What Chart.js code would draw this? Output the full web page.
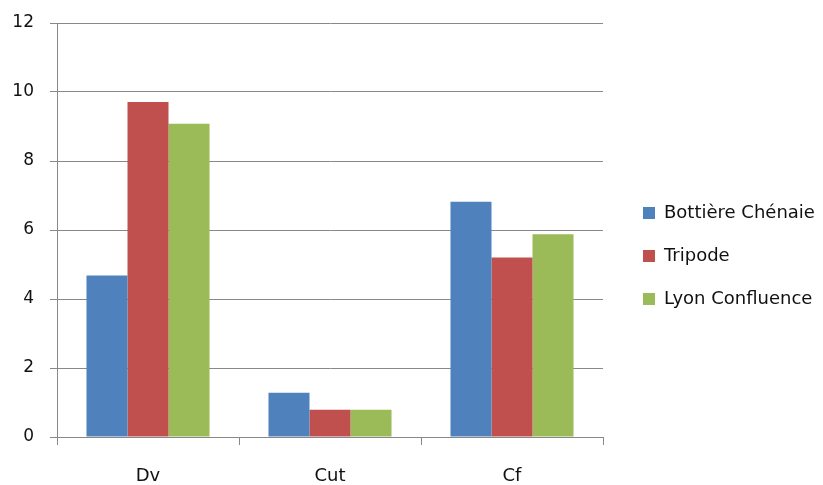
<!DOCTYPE html>
<html>
<head>
<meta charset="utf-8">
<script src="https://cdn.jsdelivr.net/npm/chart.js@4/dist/chart.umd.min.js"></script>
<style>
  body { margin: 0; background: #fff; }
  #wrap { width: 823px; height: 485px; }
</style>
</head>
<body>
<div id="wrap"><canvas id="chart"></canvas></div>
<script>
const categories = ["Dv", "Cut", "Cf"];
const bottiere = [4.68, 1.28, 6.82];
const tripode = [9.71, 0.79, 5.20];
const confluence = [9.08, 0.79, 5.88];
const yTicks = [0, 2, 4, 6, 8, 10, 12];

const family = "'DejaVu Sans', sans-serif";
const gridColor = "#888888";

// legend sits in a fixed-width column on the right, a little away from the plot
const legendBox = {
  id: "legendBox",
  beforeLayout(chart) {
    const lg = chart.legend;
    if (!lg._origFit) {
      lg._origFit = lg.fit;
      lg.fit = function () { this._origFit(); this.width = 220; };
    }
  },
  afterLayout(chart) {
    chart.legend.left += 15;
    chart.legend.right += 15;
  }
};

new Chart(document.getElementById("chart"), {
  type: "bar",
  data: {
    labels: categories,
    datasets: [
      { label: "Bottière Chénaie", data: bottiere, backgroundColor: "#4F81BD" },
      { label: "Tripode", data: tripode, backgroundColor: "#C0504D" },
      { label: "Lyon Confluence", data: confluence, backgroundColor: "#9BBB59" }
    ]
  },
  options: {
    responsive: true,
    maintainAspectRatio: false,
    animation: false,
    datasets: { bar: { categoryPercentage: 0.676, barPercentage: 1 } },
    layout: { padding: { top: 11, left: 0, right: 0, bottom: 0 } },
    scales: {
      x: {
        afterFit: axis => { axis.height = 48; },
        grid: { offset: true, drawOnChartArea: false, color: gridColor, tickLength: 8 },
        border: { color: gridColor },
        ticks: { font: { family: family, size: 18 }, color: "#111", padding: 21 }
      },
      y: {
        min: 0,
        max: 12,
        afterBuildTicks: axis => { axis.ticks = yTicks.map(v => ({ value: v })); },
        afterFit: axis => { axis.width = 57; axis.paddingTop = 23; },
        grid: { color: gridColor, tickLength: 7 },
        border: { color: gridColor },
        ticks: { font: { family: family, size: 17 }, color: "#111", padding: 16 }
      }
    },
    plugins: {
      legend: {
        position: "right",
        title: { display: true, text: " ", padding: 2, font: { family: family, size: 10 } },
        labels: {
          font: { family: family, size: 18 },
          color: "#111",
          boxWidth: 12,
          boxHeight: 12,
          padding: 25
        }
      },
      tooltip: { enabled: false }
    }
  },
  plugins: [legendBox]
});
</script>
</body>
</html>
